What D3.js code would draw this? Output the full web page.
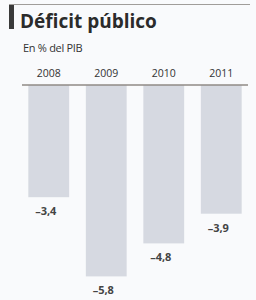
<!DOCTYPE html>
<html>
<head>
<meta charset="utf-8">
<script src="https://cdn.jsdelivr.net/npm/d3@7"></script>
<style>
  body { margin: 0; background: #f9fafc; }
  text { font-family: "Open Sans", "Noto Sans", sans-serif; }
</style>
</head>
<body>
<div class="content"></div>
<script>
// data
var years = ["2008", "2009", "2010", "2011"];
var deficit = [-3.4, -5.8, -4.8, -3.9];
var valueLabels = ["\u20133,4", "\u20135,8", "\u20134,8", "\u20133,9"];

var W = 256, H = 300;
var margin = {top: 85, left: 22, right: 8};

var svg = d3.select(".content").append("svg")
    .attr("width", W)
    .attr("height", H);

svg.append("rect")
    .attr("width", W).attr("height", H)
    .attr("fill", "#f9fafc");

// header rule and block
svg.append("line")
    .attr("x1", 9).attr("x2", 250)
    .attr("y1", 4.5).attr("y2", 4.5)
    .attr("stroke", "#a09d9a")
    .attr("stroke-width", 1);
svg.append("rect")
    .attr("x", 9).attr("y", 5)
    .attr("width", 5).attr("height", 24)
    .attr("fill", "#3a3a3a");

svg.append("text")
    .attr("x", 20).attr("y", 28)
    .style("font-size", "19px")
    .style("font-weight", "bold")
    .attr("fill", "#2b2b2b")
    .text("Déficit público");

svg.append("text")
    .attr("x", 23).attr("y", 52)
    .style("font-size", "11px")
    .style("letter-spacing", "-0.3px")
    .attr("fill", "#333")
    .text("En % del PIB");

// scales
var x = d3.scaleBand()
    .domain(years)
    .range([margin.left, W - margin.right])
    .paddingInner(0.29)
    .paddingOuter(0.11);

var y = d3.scaleLinear()
    .domain([0, -6])
    .range([margin.top, margin.top + 198]);

// year labels
svg.selectAll(".year")
    .data(years)
    .enter()
    .append("text")
      .attr("class", "year")
      .attr("x", function(d) { return x(d) + x.bandwidth() / 2; })
      .attr("y", 77)
      .attr("text-anchor", "middle")
      .style("font-size", "10.5px")
      .attr("fill", "#333")
      .text(function(d) { return d; });

// bars
svg.selectAll(".bar")
    .data(deficit)
    .enter()
    .append("rect")
      .attr("class", "bar")
      .attr("x", function(d, i) { return x(years[i]); })
      .attr("y", y(0))
      .attr("width", x.bandwidth())
      .attr("height", function(d) { return y(d) - y(0); })
      .attr("fill", "#d6d9e1");

// zero line
svg.append("line")
    .attr("x1", margin.left).attr("x2", W - margin.right)
    .attr("y1", y(0)).attr("y2", y(0))
    .attr("stroke", "#8f8a86")
    .attr("stroke-width", 1.3);

// value labels
svg.selectAll(".val")
    .data(deficit)
    .enter()
    .append("text")
      .attr("class", "val")
      .attr("x", function(d, i) { return x(years[i]) + x.bandwidth() / 2 - 3; })
      .attr("y", function(d) { return y(d) + 18; })
      .attr("text-anchor", "middle")
      .style("font-size", "11px")
      .style("font-weight", "bold")
      .attr("fill", "#444")
      .text(function(d, i) { return valueLabels[i]; });
</script>
</body>
</html>
